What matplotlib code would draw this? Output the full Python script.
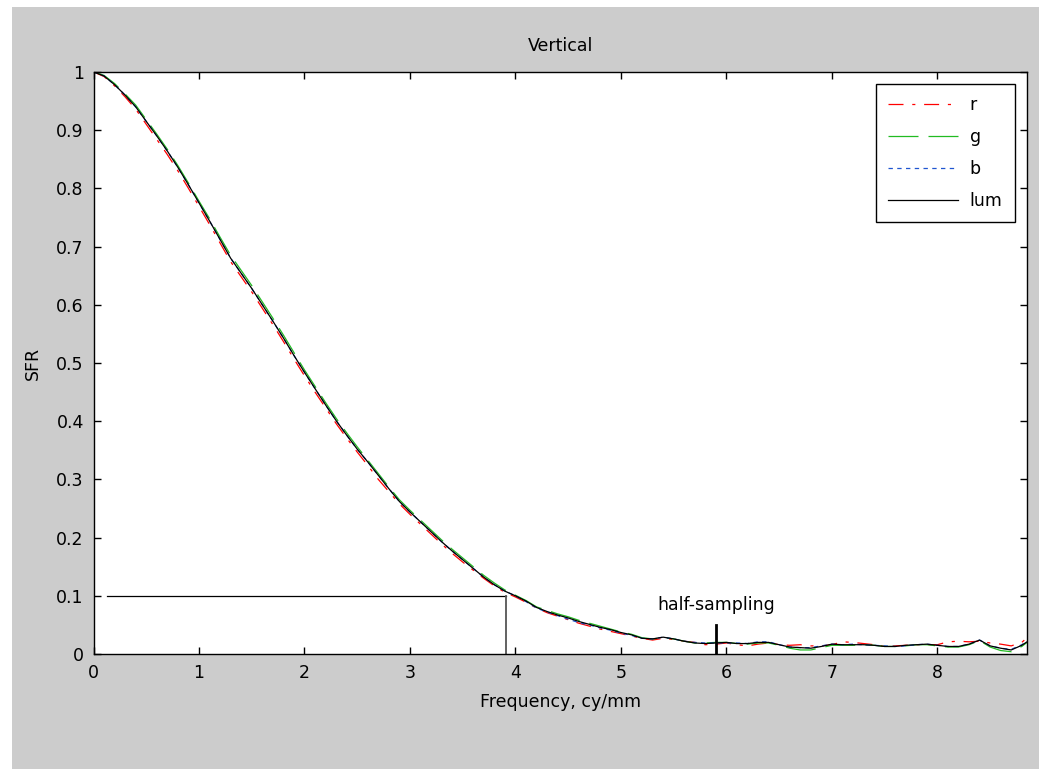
import numpy as np
import matplotlib
matplotlib.use("Agg")
import matplotlib.pyplot as plt
from matplotlib.patches import Rectangle

# frecuencias (cy/mm) y respuesta SFR
freq = np.append(np.arange(0, 8.85, 0.1), 8.85)

lum = [1.000, 0.993, 0.978, 0.960, 0.940, 0.915, 0.890, 0.864, 0.836, 0.806,
       0.775, 0.744, 0.712, 0.680, 0.654, 0.628, 0.600, 0.572, 0.543, 0.513,
       0.484, 0.456, 0.428, 0.401, 0.376, 0.352, 0.330, 0.307, 0.284, 0.262,
       0.244, 0.227, 0.210, 0.193, 0.177, 0.162, 0.147, 0.132, 0.119, 0.108,
       0.100, 0.091, 0.080, 0.073, 0.067, 0.062, 0.056, 0.051, 0.046, 0.042,
       0.037, 0.033, 0.027, 0.026, 0.029, 0.026, 0.022, 0.019, 0.018, 0.019,
       0.020, 0.018, 0.018, 0.020, 0.020, 0.016, 0.012, 0.011, 0.010, 0.013,
       0.017, 0.016, 0.016, 0.016, 0.015, 0.013, 0.013, 0.015, 0.016, 0.017,
       0.015, 0.013, 0.013, 0.017, 0.024, 0.014, 0.010, 0.007, 0.015,
       0.021]

r = [1.000, 0.992, 0.976, 0.957, 0.936, 0.910, 0.884, 0.858, 0.830, 0.800,
     0.769, 0.738, 0.706, 0.674, 0.648, 0.622, 0.594, 0.566, 0.537, 0.507,
     0.478, 0.450, 0.423, 0.396, 0.371, 0.347, 0.324, 0.300, 0.279, 0.258,
     0.240, 0.223, 0.206, 0.189, 0.173, 0.158, 0.144, 0.130, 0.117, 0.106,
     0.098, 0.089, 0.079, 0.071, 0.065, 0.059, 0.053, 0.048, 0.043, 0.039,
     0.035, 0.031, 0.027, 0.024, 0.027, 0.025, 0.022, 0.020, 0.016, 0.017,
     0.019, 0.016, 0.014, 0.017, 0.019, 0.016, 0.015, 0.016, 0.014, 0.014,
     0.016, 0.021, 0.020, 0.018, 0.016, 0.013, 0.014, 0.015, 0.016, 0.016,
     0.016, 0.021, 0.022, 0.021, 0.022, 0.019, 0.017, 0.014, 0.020,
     0.028]

g = [1.000, 0.994, 0.980, 0.962, 0.943, 0.918, 0.893, 0.867, 0.839, 0.809,
     0.778, 0.748, 0.716, 0.685, 0.659, 0.633, 0.605, 0.577, 0.548, 0.518,
     0.488, 0.460, 0.432, 0.405, 0.380, 0.356, 0.333, 0.310, 0.287, 0.265,
     0.247, 0.230, 0.213, 0.196, 0.180, 0.165, 0.150, 0.135, 0.122, 0.110,
     0.101, 0.092, 0.081, 0.075, 0.069, 0.064, 0.058, 0.053, 0.048, 0.043,
     0.038, 0.034, 0.028, 0.026, 0.028, 0.026, 0.022, 0.019, 0.019, 0.020,
     0.020, 0.018, 0.017, 0.019, 0.019, 0.015, 0.010, 0.007, 0.007, 0.011,
     0.015, 0.015, 0.015, 0.016, 0.015, 0.013, 0.013, 0.014, 0.016, 0.016,
     0.014, 0.012, 0.012, 0.016, 0.023, 0.012, 0.006, 0.004, 0.013,
     0.020]

b = [1.000, 0.993, 0.978, 0.960, 0.940, 0.915, 0.890, 0.864, 0.836, 0.806,
     0.775, 0.744, 0.712, 0.680, 0.654, 0.628, 0.600, 0.572, 0.543, 0.513,
     0.484, 0.456, 0.428, 0.401, 0.376, 0.352, 0.330, 0.307, 0.284, 0.262,
     0.244, 0.227, 0.210, 0.193, 0.177, 0.162, 0.147, 0.132, 0.119, 0.108,
     0.100, 0.090, 0.079, 0.072, 0.066, 0.060, 0.054, 0.050, 0.045, 0.041,
     0.036, 0.032, 0.027, 0.026, 0.029, 0.026, 0.022, 0.020, 0.019, 0.019,
     0.019, 0.019, 0.018, 0.021, 0.021, 0.016, 0.012, 0.011, 0.011, 0.014,
     0.017, 0.016, 0.017, 0.016, 0.015, 0.014, 0.013, 0.014, 0.016, 0.017,
     0.015, 0.013, 0.013, 0.017, 0.024, 0.014, 0.010, 0.008, 0.016,
     0.022]

# marcas: nivel 0.1 (MTF10) y half-sampling
nivel = 0.1
f_nivel = 3.91
f_inicio = 0.13
half_sampling = 5.9
x_max = 8.85

fs = 12.5
plt.rcParams['font.family'] = ['DejaVu Sans']
fig = plt.figure(figsize=(10.39, 7.69), dpi=100, facecolor='white')
# fondo gris tipo matlab
fig.patches.append(Rectangle((12/1039, 0), 1, 762/769, transform=fig.transFigure,
                             facecolor='#cccccc', edgecolor='none', zorder=-10))
ax = fig.add_axes([0.090, 0.1495, 0.8985, 0.757])
ax.set_facecolor('white')

lw = 0.9
ax.plot(freq, r, color='#ff0000', lw=lw, linestyle=(0, (12, 7, 2.5, 7)), label='r')
ax.plot(freq, g, color='#22bb22', lw=lw, linestyle=(0, (24, 8)), label='g')
ax.plot(freq, b, color='#1f55d0', lw=lw, linestyle=(0, (3.5, 3.5)), label='b')
ax.plot(freq, lum, color='black', lw=lw, label='lum')

ax.plot([f_inicio, f_nivel], [nivel, nivel], color='black', lw=0.9)
ax.plot([f_nivel, f_nivel], [0, nivel], color='#555555', lw=1.3)
ax.plot([half_sampling, half_sampling], [0, 0.05], color='black', lw=2)
ax.text(half_sampling, 0.084, 'half-sampling', ha='center', va='center', fontsize=fs)

ax.set_xlim(0, x_max)
ax.set_ylim(0, 1)
ax.set_xticks(range(0, 9))
ax.set_yticks(np.arange(0, 1.01, 0.1))
ax.set_yticklabels(['0', '0.1', '0.2', '0.3', '0.4', '0.5', '0.6', '0.7', '0.8', '0.9', '1'])
ax.tick_params(direction='in', top=True, right=True, length=5, width=1, labelsize=fs, pad=7)
for s in ax.spines.values():
    s.set_linewidth(1)

ax.set_title('Vertical', fontsize=fs, pad=15)
ax.set_xlabel('Frequency, cy/mm', fontsize=fs, labelpad=8)
ax.set_ylabel('SFR', fontsize=fs, labelpad=10)

leg = ax.legend(loc='upper right', fontsize=fs, handlelength=4.0, labelspacing=0.8,
                borderaxespad=0.7, fancybox=False, framealpha=1, edgecolor='black',
                handletextpad=0.7, borderpad=0.7)
leg.get_frame().set_linewidth(1)

fig.savefig('out.png', dpi=100, facecolor=fig.get_facecolor())
